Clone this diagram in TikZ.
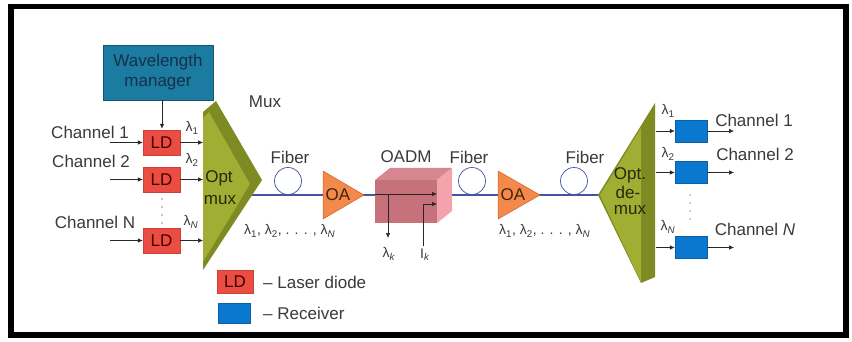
\documentclass[tikz,border=0pt]{standalone}
\usepackage{fontspec}
\setmainfont{Liberation Sans}
\usetikzlibrary{arrows.meta,shapes.geometric}
\definecolor{txt}{HTML}{3A3A3A}
\definecolor{wmfill}{HTML}{1C7BA0}
\definecolor{wmtext}{HTML}{16304A}
\definecolor{ldred}{HTML}{EC4D43}
\definecolor{rxblue}{HTML}{0B78D0}
\definecolor{olivelt}{HTML}{A1AE34}
\definecolor{olivedk}{HTML}{7E8A22}
\definecolor{oaorange}{HTML}{F38A4A}
\definecolor{oaedge}{HTML}{C8602A}
\definecolor{adfront}{HTML}{C7717B}
\definecolor{adtop}{HTML}{D58690}
\definecolor{adside}{HTML}{F3A3AB}
\definecolor{fiber}{HTML}{4454A2}
\tikzset{
  lbl/.style={text=txt, font=\fontsize{17}{19}\selectfont, inner sep=0pt},
  lam/.style={text=txt, font=\fontsize{14}{16}\selectfont, inner sep=0pt},
  ldbox/.style={fill=ldred, draw=ldred!85!black, line width=0.4pt, minimum width=37pt, minimum height=25pt, inner sep=0pt, text=black!75!red, font=\fontsize{17}{19}\selectfont},
  rxbox/.style={fill=rxblue, draw=rxblue!80!black, line width=0.4pt, minimum width=32pt, minimum height=22pt, inner sep=0pt},
  arr/.style={-{Latex[length=5pt,width=4.5pt]}, line width=0.6pt, black!85},
  fib/.style={line width=1.6pt, fiber},
  coil/.style={line width=0.7pt, fiber},
}
\begin{document}
\begin{tikzpicture}[x=1pt,y=-1pt]
\useasboundingbox (0,0) rectangle (852,342);
\fill[white] (0,0) rectangle (852,342);
\draw[line width=5.5pt, black] (11,6.5) rectangle (846,335);

% fiber line
\coordinate (muxout) at (252,195);
\coordinate (dmxin) at (600,195);
\draw[fib] (muxout) -- (dmxin);
% coils
\foreach \cx in {288,472,574}{
  \draw[coil] (\cx,181) circle (13.5);
}
\node[lbl] (fib1) at (290,157) {Fiber};
\node[lbl] (fib2) at (469,157) {Fiber};
\node[lbl] (fib3) at (585,157) {Fiber};

% wavelength manager
\node[fill=wmfill, draw=wmfill!70!black, line width=0.5pt, minimum width=110pt, minimum height=55pt, align=center, text=wmtext, font=\fontsize{17}{20}\selectfont, inner sep=0pt] (wm) at (158,72.5) {Wavelength\\manager};

% LDs
\node[ldbox] (ld1) at (161.5,142.5) {LD};
\node[ldbox] (ld2) at (161.5,179.5) {LD};
\node[ldbox] (ldN) at (161.5,240.5) {LD};
\coordinate (wmarr) at (162,129);
\draw[arr, line width=1pt] (wm.south -| wmarr) -- (wmarr);

\node[lbl] (ch1) at (90,132) {Channel 1};
\node[lbl] (ch2) at (91,161) {Channel 2};
\node[lbl] (chN) at (95,222) {Channel N};
\coordinate (i1) at (110,142.5);
\coordinate (i2) at (110,179.5);
\coordinate (iN) at (110,240.5);
\draw[arr] (i1) -- (ld1.west);
\draw[arr] (i2) -- (ld2.west);
\draw[arr] (iN) -- (ldN.west);
\coordinate (m1) at (203,142.5);
\coordinate (m2) at (203,179.5);
\coordinate (mN) at (203,240.5);
\draw[arr] (ld1.east) -- (m1);
\draw[arr] (ld2.east) -- (m2);
\draw[arr] (ldN.east) -- (mN);
\node[lam] (l1) at (192,128) {λ\textsubscript{1}};
\node[lam] (l2) at (192,160) {λ\textsubscript{2}};
\node[lam] (lN) at (191,222) {λ\textsubscript{\textit{N}}};
\foreach \yy in {199,207,215,223} \fill[txt!60] (162,\yy) circle (0.9);

% mux
\fill[olivedk] (203,112) -- (216,101) -- (262,180) -- (203,270) -- cycle;
\fill[olivelt] (203,118) -- (209,112) -- (250,184) -- (203,262) -- cycle;
\node[lbl, text=black!70!olivedk] (optmux) at (219,178) {Opt};
\node[lbl, text=black!70!olivedk] at (220,200) {mux};
\node[lbl] (mux) at (265,102) {Mux};

% OAs
\filldraw[fill=oaorange, draw=oaedge, line width=0.5pt] (323,171) -- (364,195) -- (323,219) -- cycle;
\node[lbl, text=black!65!oaedge] (oa1) at (338,195) {OA};
\filldraw[fill=oaorange, draw=oaedge, line width=0.5pt] (498,171) -- (540,195) -- (498,219) -- cycle;
\node[lbl, text=black!65!oaedge] (oa2) at (513,195) {OA};

% OADM
\fill[adtop] (375,180) -- (390,168) -- (452,168) -- (437,180) -- cycle;
\fill[adside] (437,180) -- (452,168) -- (452,211) -- (437,223) -- cycle;
\fill[adfront] (375,180) rectangle (437,223);
\node[lbl] (oadm) at (406,157) {OADM};
\coordinate (adin) at (375,194);
\coordinate (adout) at (437,194);
\coordinate (addin) at (437,204);
\coordinate (dropx) at (388,194);
\coordinate (dropend) at (388,238);
\coordinate (addst) at (423,246);
\coordinate (addcorner) at (423,204);
\draw[arr, line width=0.7pt] (adin) -- (adout);
\draw[arr, line width=0.7pt] (dropx) -- (dropend);
\draw[arr, line width=0.7pt] (addst) -- (addcorner) -- (addin);
\node[lam] (lk) at (389,254) {λ\textsubscript{\textit{k}}};
\node[lam] (ik) at (425,255) {I\textsubscript{\textit{k}}};

% lambda lists
\node[lam, anchor=west] (list1) at (244,231) {λ\textsubscript{1}, λ\textsubscript{2}, . . . , λ\textsubscript{\textit{N}}};
\node[lam, anchor=west] (list2) at (499,231) {λ\textsubscript{1}, λ\textsubscript{2}, . . . , λ\textsubscript{\textit{N}}};

% demux
\fill[olivedk] (598,195) -- (655,103) -- (655,277) -- (641,283) -- cycle;
\fill[olivelt] (600,195) -- (641,128) -- (641,282) -- cycle;
\node[lbl, text=black!70!olivedk] (optdm) at (630,175) {Opt.};
\node[lbl, text=black!70!olivedk] at (628,192) {de-};
\node[lbl, text=black!70!olivedk] at (630,210) {mux};

% receivers
\node[rxbox] (rx1) at (691,131) {};
\node[rxbox] (rx2) at (691,172.5) {};
\node[rxbox] (rxN) at (691,247.5) {};
\coordinate (d1) at (656,131);
\coordinate (d2) at (656,172.5);
\coordinate (dN) at (656,247.5);
\coordinate (o1) at (734,131);
\coordinate (o2) at (734,172.5);
\coordinate (oN) at (734,247.5);
\draw[arr] (d1) -- (rx1.west);
\draw[arr] (d2) -- (rx2.west);
\draw[arr] (dN) -- (rxN.west);
\draw[arr] (rx1.east) -- (o1);
\draw[arr] (rx2.east) -- (o2);
\draw[arr] (rxN.east) -- (oN);
\node[lam] (r1) at (668,111) {λ\textsubscript{1}};
\node[lam] (r2) at (668,154) {λ\textsubscript{2}};
\node[lam] (rN) at (668,227) {λ\textsubscript{\textit{N}}};
\foreach \yy in {195,203,211,219} \fill[txt!50] (690,\yy) circle (0.9);
\node[lbl] (och1) at (754,120) {Channel 1};
\node[lbl] (och2) at (755,154) {Channel 2};
\node[lbl] (ochN) at (755,229) {Channel \textit{N}};

% legend
\node[ldbox, minimum width=36pt, minimum height=23pt] (legld) at (235,281.5) {LD};
\node[lbl, anchor=west] (legldt) at (263,282) {– Laser diode};
\node[rxbox, minimum width=32pt, minimum height=20pt] (legrx) at (234,313) {};
\node[lbl, anchor=west] (legrxt) at (263,313) {– Receiver};
\end{tikzpicture}
\end{document}
